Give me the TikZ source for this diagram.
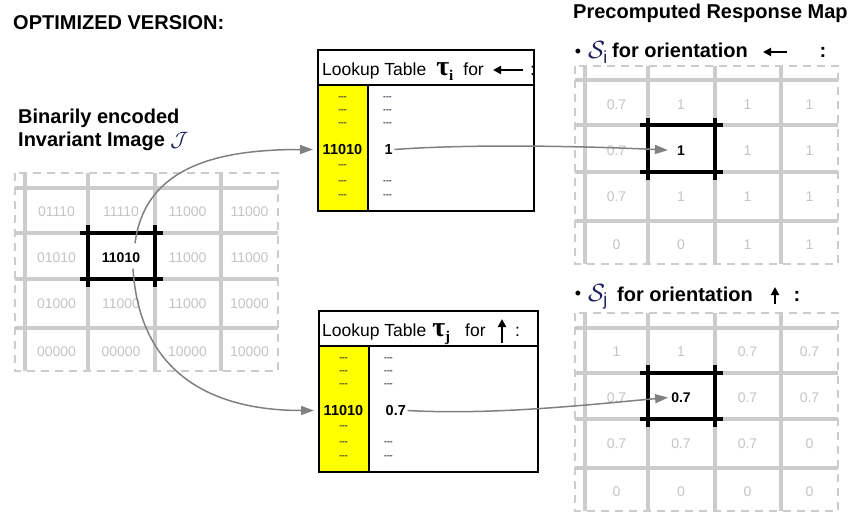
\documentclass[tikz,border=0pt]{standalone}
\usepackage{fontspec}
\setmainfont{Liberation Sans}
\newfontfamily\taufont{Liberation Serif}
\usetikzlibrary{arrows.meta,calc}
\definecolor{gridgray}{HTML}{CCCCCC}
\definecolor{cellgray}{HTML}{C4C4C4}
\definecolor{conngray}{HTML}{808080}
\definecolor{lutyellow}{HTML}{FFFF00}
\definecolor{mathblue}{HTML}{1C1C5C}
\definecolor{dotcol}{HTML}{303040}

\tikzset{
 gridline/.style={draw=gridgray, line width=4pt},
 gridborder/.style={draw=gridgray, line width=1.8pt, dash pattern=on 8pt off 6pt},
 cell/.style={text=cellgray, font=\fontsize{14}{14}\selectfont, inner sep=2pt},
 hlcell/.style={text=black, font=\bfseries\fontsize{14}{14}\selectfont, inner sep=2pt},
 hlline/.style={draw=black, line width=4pt},
 tframe/.style={draw=black, line width=1.8pt, inner sep=0pt},
 tline/.style={draw=black, line width=1.5pt},
 entry/.style={font=\bfseries\fontsize{14.5}{14.5}\selectfont, inner sep=1.5pt},
 dotsnode/.style={font=\bfseries\fontsize{8.5}{8.5}\selectfont, text=dotcol, inner sep=0pt},
 title/.style={font=\bfseries\fontsize{20}{22}\selectfont, inner sep=0pt, anchor=base west},
 hdr/.style={font=\fontsize{17.5}{17.5}\selectfont, inner sep=0pt, anchor=base west},
 conn/.style={draw=conngray, line width=1.5pt, -{Triangle[length=13pt,width=9pt]}},
 glyph/.style={draw=black, line width=2pt, -{Triangle[length=8pt,width=8pt]}},
}

\newcommand{\gridframe}[2]{%
 \begin{scope}[shift={(#1,#2)}]
  \foreach \gx in {10,73,139.5,206} \draw[gridline] (\gx,0) -- (\gx,198);
  \foreach \gy in {14.5,59.5,106,155} \draw[gridline] (0,\gy) -- (263,\gy);
  \draw[gridborder] (0,0) rectangle (263,198);
  \draw[hlline] (65,59.5) -- (147.5,59.5);
  \draw[hlline] (65,106) -- (147.5,106);
  \draw[hlline] (73,52) -- (73,113.5);
  \draw[hlline] (139.5,52) -- (139.5,113.5);
 \end{scope}}

\newcommand{\gridcells}[7]{%
 \begin{scope}[shift={(#1,#2)}]
 \foreach \rowdata [count=\r] in {{#4},{#5},{#6},{#7}} {
   \pgfmathsetmacro\ry{{38.5,84.5,131,179}[\r-1]}
   \foreach \val [count=\c] in \rowdata {
     \pgfmathsetmacro\cx{{41.5,106,172.5,234.5}[\c-1]}
     \ifnum\numexpr\r*10+\c\relax=22 \def\cst{hlcell}\else\def\cst{cell}\fi
     \node[\cst] (#3-\r-\c) at (\cx,\ry) {\val};
   }
 }
 \end{scope}}

\newcommand{\luttable}[5]{%
 \begin{scope}[shift={(#1,#2)}]
  \fill[lutyellow] (0,36) rectangle (51,161);
  \draw[tline] (0,36) -- (#3,36);
  \draw[tline] (51,36) -- (51,161);
  \node[tframe, anchor=north west, minimum width=#3pt, minimum height=161pt] (#4) at (0,0) {};
  \foreach \ty [count=\k] in {49,62.5,75.5,117.5,133,147} \node[dotsnode] (#4dl\k) at (25.5,\ty) {-{}-{}-};
  \foreach \ty [count=\k] in {49,62.5,75.5,133,147} \node[dotsnode, anchor=west] (#4dr\k) at (66,\ty) {-{}-{}-};
  \node[entry] (#4key) at (25.5,100.5) {11010};
  \node[entry, anchor=west] (#4val) at (66,100.5) {#5};
 \end{scope}}

\begin{document}
\begin{tikzpicture}[x=1pt,y=-1pt]
\useasboundingbox (0,0) rectangle (850,513);

% titles
\node[title] (opt) at (13,30) {OPTIMIZED VERSION:};
\node[title] (bin1) at (18,124) {Binarily encoded};
\node[title] (bin2) at (18,147) {Invariant Image {\color{mathblue}\fontsize{22}{22}\selectfont$\mathcal{J}$}};
\node[title] (pre) at (573,18.5) {Precomputed Response Map};

% bullet line 1
\node[inner sep=0pt, font=\fontsize{18}{18}\selectfont] (b1) at (578,53) {•};
\node[anchor=base west, inner sep=0pt] (s1) at (588,59) {\color{mathblue}\fontsize{25}{25}\selectfont$\mathcal{S}_{\mathrm{i}}$};
\node[title] (o1) at (612,58) {for orientation};
\draw[glyph] (787,52) -- (763,52);
\node[title, anchor=base] (k1) at (823,58) {:};

% bullet line 2
\node[inner sep=0pt, font=\fontsize{18}{18}\selectfont] (b2) at (578,295) {•};
\node[anchor=base west, inner sep=0pt] (s2) at (588,301) {\color{mathblue}\fontsize{25}{25}\selectfont$\mathcal{S}_{\mathrm{j}}$};
\node[title] (o2) at (617,301.5) {for orientation};
\draw[glyph] (775,304) -- (775,287);
\node[title, anchor=base] (k2) at (797,301.5) {:};

% grids
\gridframe{15}{173}
\gridcells{15}{173}{L}{01110,11110,11000,11000}{01010,11010,11000,11000}{01000,11000,11000,10000}{00000,00000,10000,10000}
\gridframe{575}{66}
\gridcells{575}{66}{A}{0.7,1,1,1}{0.7,1,1,1}{0.7,1,1,1}{0,0,1,1}
\gridframe{575}{313}
\gridcells{575}{313}{B}{1,1,0.7,0.7}{0.7,0.7,0.7,0.7}{0.7,0.7,0.7,0}{0,0,0,0}

% lookup tables
\luttable{317}{49}{216}{t1}{1}
\node[hdr] (h1) at (322,76) {Lookup Table\hspace{10pt}{\taufont\bfseries\fontsize{28}{28}\selectfont τ\raisebox{-5pt}{\fontsize{15}{15}\selectfont i}}\hspace{10pt}for};
\draw[glyph] (523,70) -- (493,70);
\begin{scope}
 \clip (317,49) rectangle (532.5,210);
 \node[hdr] (h1c) at (530,76) {:};
\end{scope}

\luttable{318}{310}{219}{t2}{0.7}
\node[hdr] (h2) at (322,336) {Lookup Table\hspace{6pt}{\taufont\bfseries\fontsize{28}{28}\selectfont τ\raisebox{-5pt}{\fontsize{15}{15}\selectfont j}}\hspace{15pt}for};
\draw[glyph] (502,343) -- (502,319);
\node[hdr] (h2c) at (515,336) {:};

% connectors
\coordinate (c1s) at ($(L-2-2.north)+(14,-7)$);
\coordinate (c2s) at ($(L-2-2.south)+(12,4)$);
\path (t1key -| t1.west) ++(-4,0) coordinate (c1e);
\path (t2key -| t2.west) ++(-4,0) coordinate (c2e);
\draw[conn] (c1s) .. controls +(10,-78) and +(-93,0) .. (c1e);
\draw[conn] (c2s) .. controls +(7,112) and +(-93,0) .. (c2e);
\draw[conn, shorten >=7pt] (t1val.east) .. controls +(80,-6) and +(-80,-4) .. (A-2-2.west);
\draw[conn, shorten >=1pt] (t2val.east) .. controls +(90,5) and +(-70,6) .. (B-2-2.west);
\end{tikzpicture}
\end{document}
